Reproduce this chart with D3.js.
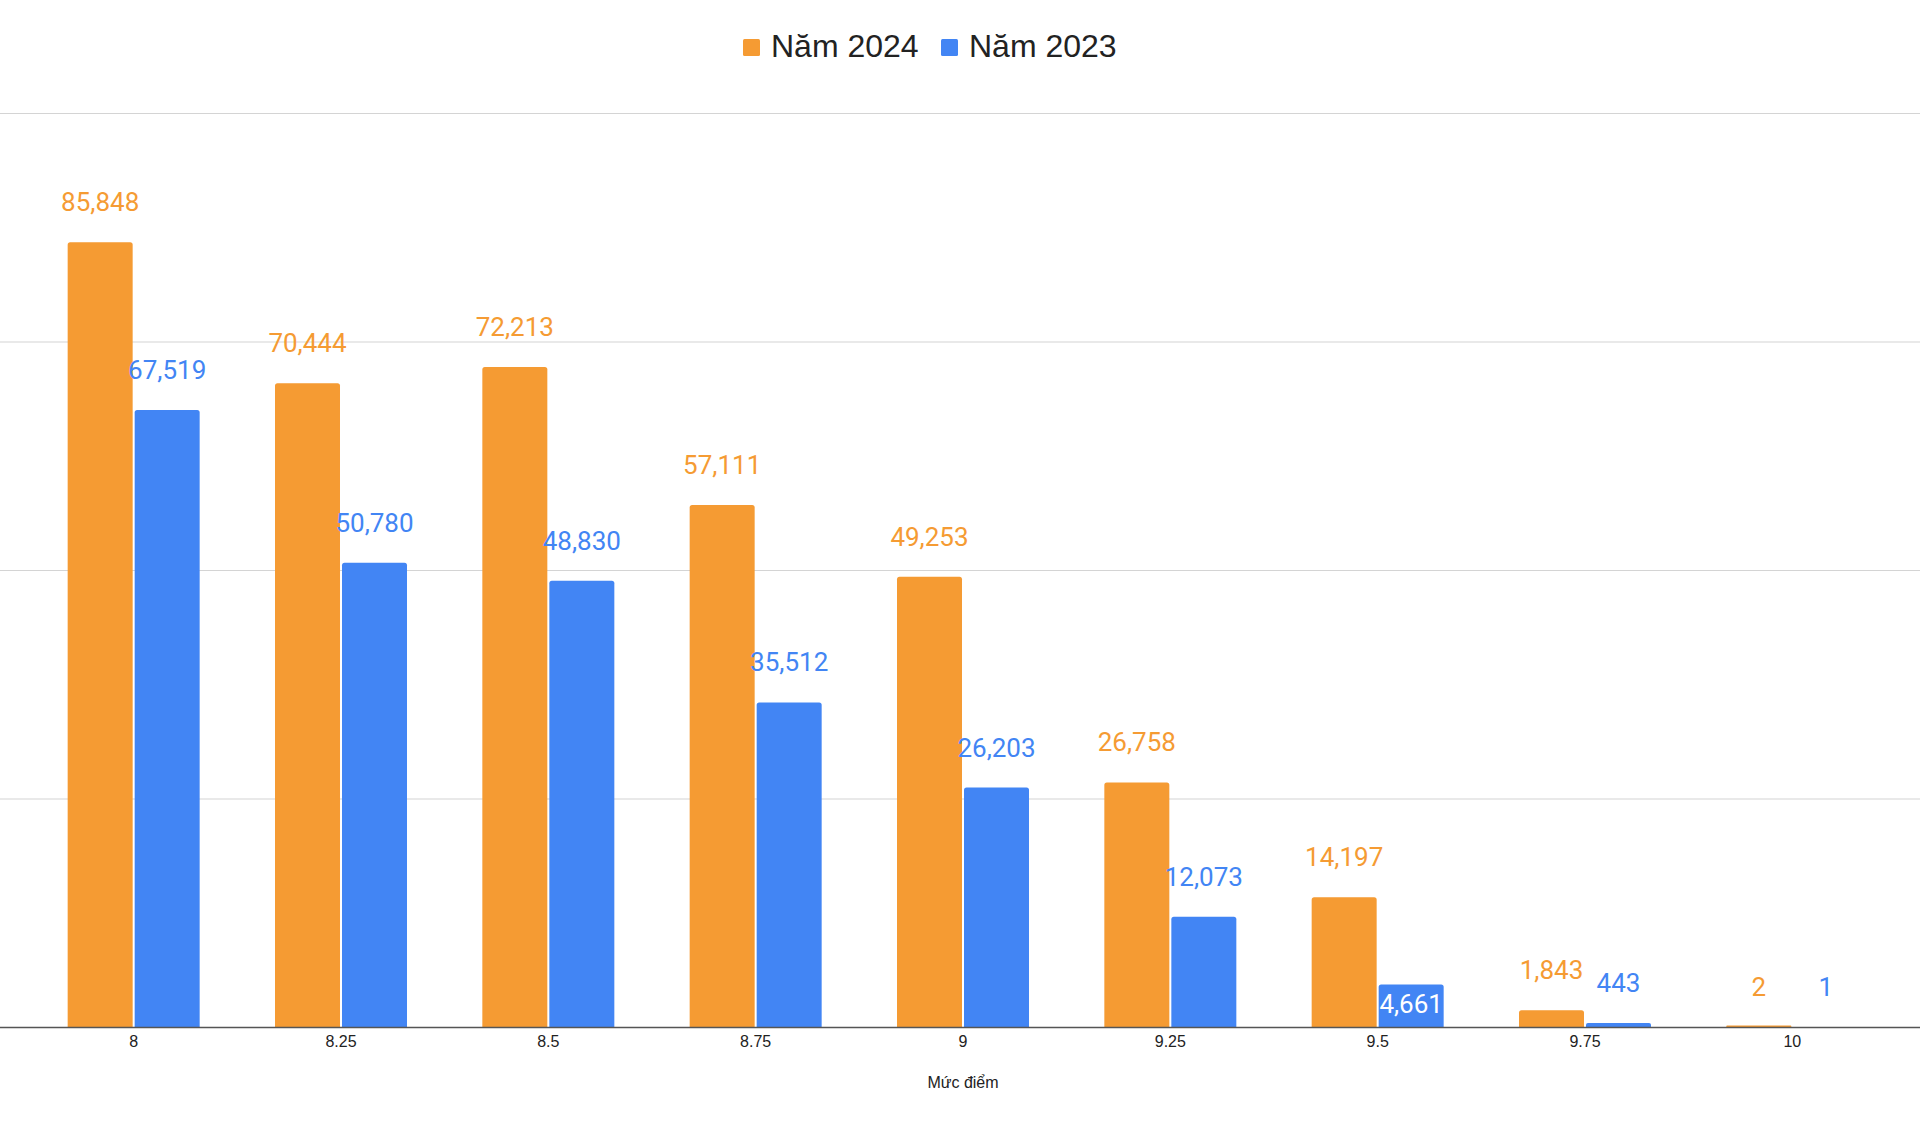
<!DOCTYPE html>
<html>
<head>
<meta charset="utf-8">
<script src="https://cdn.jsdelivr.net/npm/d3@7"></script>
<style>
  html, body { margin: 0; padding: 0; background: #fff; }
  svg { display: block; }
</style>
</head>
<body>
<svg id="chart" width="1920" height="1144"></svg>
<script>
// ---- data ----
const categories = ["8", "8.25", "8.5", "8.75", "9", "9.25", "9.5", "9.75", "10"];
const seriesNames = ["Năm 2024", "Năm 2023"];
const values2024 = [85848, 70444, 72213, 57111, 49253, 26758, 14197, 1843, 2];
const values2023 = [67519, 50780, 48830, 35512, 26203, 12073, 4661, 443, 1];
const gridTicks = [0, 25000, 50000, 75000, 100000];
const xAxisTitle = "Mức điểm";
// labels drawn inside the bar (category, series)
const insideLabels = [["9.5", "Năm 2023"]];

const colors = { "Năm 2024": "#F59B33", "Năm 2023": "#4285F4" };
const seriesValues = { "Năm 2024": values2024, "Năm 2023": values2023 };

const W = 1920, H = 1144;
const svg = d3.select("#chart");

const x = d3.scaleBand().domain(categories).range([30, 1896]).paddingInner(0).paddingOuter(0);
const groupW = 132;
const x1 = d3.scaleBand().domain(seriesNames).range([0, groupW]).paddingInner(0.03);
const y = d3.scaleLinear().domain([0, 100000]).range([1027, 113]);

// gridlines
const grid = svg.append("g").attr("class", "grid")
  .call(d3.axisLeft(y).tickValues(gridTicks.filter(t => t > 0)).tickSize(-W).tickFormat(""));
grid.select(".domain").remove();
grid.selectAll(".tick line").attr("stroke", "#d4d4d4").attr("stroke-width", 1.2);

// data
const rows = [];
categories.forEach((c, i) => {
  seriesNames.forEach(s => rows.push({ cat: c, series: s, value: seriesValues[s][i] }));
});

const r = 2.5;
function barPath(x0, w, yTop, yBase) {
  const h = yBase - yTop;
  if (h <= 0.3) return "";
  const rr = Math.min(r, h / 2, w / 2);
  return `M${x0},${yBase} L${x0},${yTop + rr} Q${x0},${yTop} ${x0 + rr},${yTop} ` +
         `L${x0 + w - rr},${yTop} Q${x0 + w},${yTop} ${x0 + w},${yTop + rr} L${x0 + w},${yBase} Z`;
}
const bx = d => x(d.cat) + x.bandwidth() / 2 - groupW / 2 + x1(d.series);
const barTop = d => {
  const t = y(d.value);
  return d.value >= 2 ? Math.min(t, y(0) - 1.5) : t;
};

svg.append("g").selectAll("path.bar").data(rows).join("path")
  .attr("class", "bar")
  .attr("d", d => barPath(bx(d), x1.bandwidth(), barTop(d), y(0)))
  .attr("fill", d => colors[d.series]);

// labels
const isInside = d => insideLabels.some(p => p[0] === d.cat && p[1] === d.series);
svg.append("g").selectAll("text.lbl").data(rows).join("text")
  .attr("class", "lbl")
  .attr("x", d => bx(d) + x1.bandwidth() / 2)
  .attr("y", d => isInside(d) ? y(d.value) + 29 : y(d.value) - 31)
  .attr("text-anchor", "middle")
  .attr("font-family", "Roboto, 'Noto Sans', sans-serif")
  .attr("font-size", 26)
  .attr("fill", d => isInside(d) ? "#ffffff" : colors[d.series])
  .text(d => d3.format(",")(d.value));

// x axis
const xAxis = svg.append("g").attr("transform", `translate(0,${y(0)})`)
  .call(d3.axisBottom(x).tickSize(0).tickPadding(9));
xAxis.select(".domain").remove();
xAxis.selectAll(".tick text")
  .attr("font-family", "'Liberation Sans', Arial, sans-serif")
  .attr("font-size", 16).attr("fill", "#222");
svg.append("line").attr("x1", 0).attr("x2", W).attr("y1", y(0) + 0.5).attr("y2", y(0) + 0.5)
  .attr("stroke", "#555").attr("stroke-width", 1.5);

svg.append("text").attr("x", (x.range()[0] + x.range()[1]) / 2).attr("y", 1088)
  .attr("text-anchor", "middle")
  .attr("font-family", "'Liberation Sans', Arial, sans-serif")
  .attr("font-size", 16).attr("fill", "#222")
  .text(xAxisTitle);

// legend
const legendX = [743, 941];
const lg = svg.append("g").selectAll("g").data(seriesNames).join("g")
  .attr("transform", (d, i) => `translate(${legendX[i]},0)`);
lg.append("rect").attr("x", 0).attr("y", 39).attr("width", 17).attr("height", 17).attr("rx", 1.5)
  .attr("fill", d => colors[d]);
lg.append("text").attr("x", 28).attr("y", 57)
  .attr("font-family", "'Liberation Sans', Arial, sans-serif")
  .attr("font-size", 32).attr("fill", "#222")
  .text(d => d);
</script>
</body>
</html>
